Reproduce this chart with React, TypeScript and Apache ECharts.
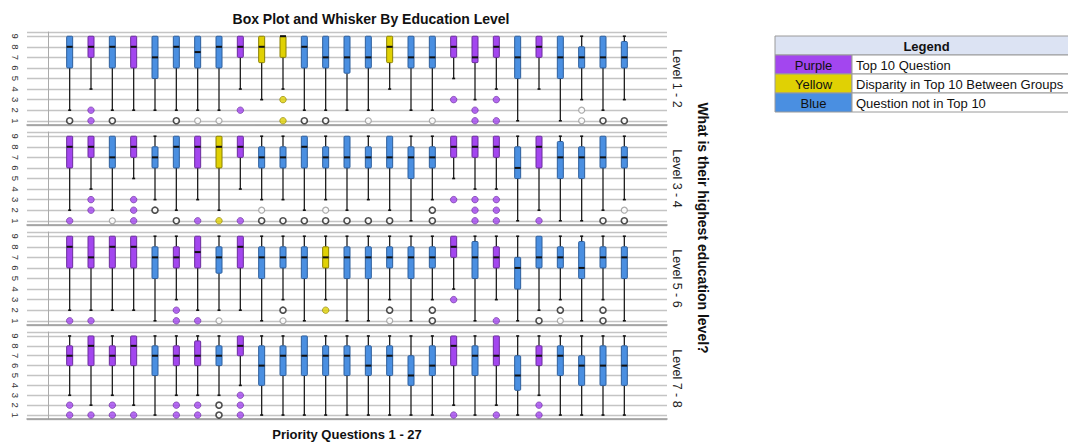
import React, { useEffect, useRef } from "react";
import * as echarts from "echarts";

// ---------- DATA ----------
const QUESTION_NUMBERS = [1, 2, 3, 4, 5, 6, 7, 8, 9, 10, 11, 12, 13, 14, 15, 16, 17, 18, 19, 20, 21, 22, 23, 24, 25, 26, 27];
const LEVELS = ["Level 1 - 2", "Level 3 - 4", "Level 5 - 6", "Level 7 - 8"];
const TITLE = "Box Plot and Whisker By Education Level";
const X_NAME = "Priority Questions 1 - 27";
const Y_NAME = "What is their highest education level?";

// colour group per question: P = purple, Y = yellow, B = blue
const GROUP_L12 = "BPBPBBBBPYYBBBBYBBPPPBPBBBB";
const GROUP_L34 = "PPBPBBPYPBBBBBBBBBPPPBPBBBB";
const GROUP_L56 = "PPPPBPPBPBBBYBBBBBPBPBBBBBB";
const GROUP_L78 = "PPPPBPPBPBBBBBBBBBPBPBPBBBB";

// [whisker low, Q1, median, Q3, whisker high]
const BOX_L12 = [
  [2, 6, 8, 9, 9], [4, 7, 8, 9, 9], [2, 6, 8, 9, 9], [2, 6, 8, 9, 9], [2, 5, 7, 9, 9],
  [2, 6, 8, 9, 9], [2, 6, 7.5, 9, 9], [2, 6, 8, 9, 9], [4, 7, 8, 9, 9], [3, 6.5, 8, 9, 9],
  [4, 7, 9, 9, 9], [2, 6, 8, 9, 9], [2, 6, 7, 9, 9], [2, 5.5, 7, 9, 9], [2, 6, 7, 9, 9],
  [4, 6.5, 8, 9, 9], [2, 6, 7, 9, 9], [2, 6, 7, 9, 9], [5, 7, 8, 9, 9], [3, 6.5, 7, 9, 9],
  [4, 7, 8, 9, 9], [1, 5, 7, 9, 9], [4, 7, 8, 9, 9], [1, 5, 7, 9, 9], [3, 6, 7, 8, 9],
  [2, 6, 7, 9, 9], [3, 6, 7, 8.5, 9],
];
const BOX_L34 = [
  [2, 6, 8, 9, 9], [4, 7, 8, 9, 9], [2, 6, 7, 9, 9], [5, 7, 8, 9, 9], [3, 6, 7, 8, 9],
  [2, 6, 8, 9, 9], [3, 6, 8, 9, 9], [2, 6, 8, 9, 9], [4, 7, 8, 9, 9], [3, 6, 7, 8, 9],
  [3, 6, 7, 8, 9], [2, 6, 8, 9, 9], [3, 6, 7, 8, 9], [2, 6, 7, 9, 9], [3, 6, 7, 8, 9],
  [2, 6, 7, 9, 9], [1, 5, 7, 8, 9], [3, 6, 7, 8, 9], [5, 7, 8, 9, 9], [4, 7, 8, 9, 9],
  [4, 7, 8, 9, 9], [1, 5, 6, 8, 9], [2, 6, 8, 9, 9], [1, 5, 7, 8.5, 9], [1, 5, 7, 8, 9],
  [2, 6, 7, 9, 9], [3, 6, 7, 8, 9],
];
const BOX_L56 = [
  [2, 6, 8, 9, 9], [2, 6, 7, 9, 9], [2, 6, 8, 9, 9], [2, 6, 8, 9, 9], [1, 5, 7, 8, 9],
  [3, 6, 7, 8, 9], [2, 6, 7.5, 9, 9], [2, 5.5, 7, 8, 9], [2, 6, 8, 9, 9], [1, 5, 7, 8, 9],
  [3, 6, 7, 8, 9], [1, 5, 7, 8, 9], [3, 6, 7, 8, 9], [1, 5, 7, 8, 9], [1, 5, 7, 8, 9],
  [3, 6, 7, 8, 9], [1, 5, 7, 8, 9], [3, 6, 7, 8, 9], [4, 7, 8, 9, 9], [1, 5, 7, 8.5, 9],
  [3, 6, 7, 8, 9], [1, 4, 6, 7, 9], [2, 6, 7, 9, 9], [3, 6, 7, 8, 9], [1, 5, 6, 8.5, 9],
  [3, 6, 7, 8, 9], [1, 5, 7, 8, 9],
];
const BOX_L78 = [
  [3, 6, 7, 8, 9], [2, 6, 8, 9, 9], [3, 6, 7, 8, 9], [2, 6, 8, 9, 9], [1, 5, 7, 8, 9],
  [3, 6, 7, 8, 9], [3, 6, 7, 8.5, 9], [3, 6, 7, 8, 9], [4, 7, 8, 9, 9], [1, 4, 6, 8, 9],
  [1, 5, 7, 8, 9], [1, 5, 7, 9, 9], [1, 5, 7, 8, 9], [1, 5, 7, 8, 9], [1, 5, 6, 8, 9],
  [1, 5, 7, 8, 9], [1, 4, 5, 7, 9], [1, 5, 6, 8, 9], [2, 6, 8, 9, 9], [1, 5, 7, 8, 9],
  [2, 6, 7, 9, 9], [1, 3.5, 5, 7, 9], [3, 6, 7, 8, 9], [1, 5, 7, 8, 9], [1, 4, 6, 7, 9],
  [1, 4, 6, 8, 9], [1, 4, 6, 8, 9],
];

// outliers: [question, value, style]  f = filled (group colour), h = hollow dark, g = hollow grey
const OUT_L12: [number, number, string][] = [
  [1, 1, "h"], [2, 2, "f"], [2, 1, "f"], [3, 1, "h"], [6, 1, "h"], [7, 1, "g"], [8, 1, "g"],
  [9, 2, "f"], [11, 3, "f"], [11, 1, "f"], [12, 1, "h"], [13, 1, "h"], [15, 1, "g"], [18, 1, "g"],
  [19, 3, "f"], [20, 2, "f"], [20, 1, "f"], [21, 3, "f"], [21, 1, "f"], [25, 2, "g"], [25, 1, "g"],
  [26, 1, "h"], [27, 1, "h"],
];
const OUT_L34: [number, number, string][] = [
  [1, 1, "f"], [2, 3, "f"], [2, 2, "f"], [3, 1, "g"], [4, 3, "f"], [4, 2, "f"], [4, 1, "f"],
  [5, 2, "h"], [6, 1, "h"], [7, 1, "f"], [8, 1, "f"], [9, 1, "f"], [10, 2, "g"], [10, 1, "h"],
  [11, 1, "h"], [12, 1, "h"], [13, 2, "g"], [13, 1, "h"], [14, 1, "h"], [15, 1, "h"], [16, 1, "h"],
  [18, 2, "h"], [18, 1, "h"], [19, 3, "f"], [20, 3, "f"], [20, 2, "f"], [20, 1, "f"],
  [21, 3, "f"], [21, 2, "f"], [21, 1, "f"], [23, 1, "f"], [26, 1, "h"], [27, 2, "g"], [27, 1, "h"],
];
const OUT_L56: [number, number, string][] = [
  [1, 1, "f"], [2, 1, "f"], [6, 2, "f"], [6, 1, "f"], [7, 1, "f"], [8, 1, "g"], [11, 2, "h"],
  [11, 1, "g"], [13, 2, "f"], [16, 2, "h"], [16, 1, "g"], [18, 2, "h"], [18, 1, "h"], [19, 3, "f"],
  [21, 1, "f"], [23, 1, "h"], [24, 2, "h"], [24, 1, "g"], [26, 2, "h"], [26, 1, "h"],
];
const OUT_L78: [number, number, string][] = [
  [1, 2, "f"], [1, 1, "f"], [2, 1, "f"], [3, 2, "f"], [3, 1, "f"], [4, 1, "f"], [6, 2, "f"],
  [6, 1, "f"], [7, 2, "f"], [7, 1, "f"], [8, 2, "h"], [8, 1, "h"], [9, 3, "f"], [9, 2, "f"],
  [9, 1, "f"], [19, 1, "f"], [21, 1, "f"], [23, 2, "f"], [23, 1, "f"],
];

const LEGEND_TITLE = "Legend";
const LEGEND_KEYS = ["Purple", "Yellow", "Blue"];
const LEGEND_TEXTS = ["Top 10 Question", "Disparity in Top 10 Between Groups", "Question not in Top 10"];
const LEGEND_GROUPS = ["P", "Y", "B"];

// ---------- STYLE ----------
const FILL: Record<string, string> = { P: "#A346EF", Y: "#E0D104", B: "#4A8FE1" };
const EDGE: Record<string, string> = { P: "#6A2C9C", Y: "#8A8000", B: "#2D5E9C" };
const FONT = "'Liberation Sans', Arial, sans-serif";

const PANELS = [
  { groups: GROUP_L12, box: BOX_L12, out: OUT_L12 },
  { groups: GROUP_L34, box: BOX_L34, out: OUT_L34 },
  { groups: GROUP_L56, box: BOX_L56, out: OUT_L56 },
  { groups: GROUP_L78, box: BOX_L78, out: OUT_L78 },
];

const GRID_LEFT = 27;
const GRID_WIDTH = 640;
const GRID_TOPS = [32, 132, 232, 332];
const GRID_H = 93;

function buildOption() {
  const grids: any[] = [];
  const xAxes: any[] = [];
  const yAxes: any[] = [];
  const series: any[] = [];
  const graphics: any[] = [];

  PANELS.forEach((p, pi) => {
    grids.push({ left: GRID_LEFT, width: GRID_WIDTH, top: GRID_TOPS[pi], height: GRID_H, containLabel: false });
    xAxes.push({
      type: "value",
      gridIndex: pi,
      min: -1,
      max: 29,
      axisLabel: { show: false },
      axisTick: { show: false },
      splitLine: { show: false },
      axisLine: { show: true, lineStyle: { color: "#999", width: 1.5 } },
      ...(pi === 3
        ? {
            name: X_NAME,
            nameLocation: "middle",
            nameGap: 9,
            nameTextStyle: { fontFamily: FONT, fontWeight: "bold", fontSize: 13, color: "#111" },
          }
        : {}),
    });
    yAxes.push({
      type: "value",
      gridIndex: pi,
      min: 0.6,
      max: 9.4,
      splitNumber: 9,
      minInterval: 1,
      maxInterval: 1,
      axisLine: { show: true, lineStyle: { color: "#aaa", width: 1 } },
      axisTick: { show: false },
      axisLabel: {
        rotate: -90,
        fontSize: 9.5,
        color: "#333",
        fontFamily: FONT,
        margin: 7,
        formatter: (v: number) => (Math.abs(v - Math.round(v)) < 1e-6 ? String(Math.round(v)) : ""),
      },
      splitLine: { show: true, lineStyle: { color: "#c4c4c4", width: 1.3 } },
    });

    const groups = p.groups;
    series.push({
      type: "custom",
      xAxisIndex: pi,
      yAxisIndex: pi,
      silent: true,
      z: 2,
      data: p.box.map((s, i) => [QUESTION_NUMBERS[i], ...s]),
      renderItem: (params: any, api: any) => {
        const x = api.value(0);
        const lo = api.value(1), q1 = api.value(2), md = api.value(3), q3 = api.value(4), hi = api.value(5);
        const g = groups[params.dataIndex];
        const pLo = api.coord([x, lo]);
        const pQ1 = api.coord([x, q1]);
        const pMd = api.coord([x, md]);
        const pQ3 = api.coord([x, q3]);
        const pHi = api.coord([x, hi]);
        const cx = pLo[0];
        const hw = 3;
        const wStyle = { stroke: "#1e1e1e", lineWidth: 1.3 };
        const capStyle = { stroke: "#111", lineWidth: 1.6 };
        const children: any[] = [];
        if (lo < q1) {
          children.push({ type: "line", shape: { x1: cx, y1: pQ1[1], x2: cx, y2: pLo[1] }, style: wStyle });
          children.push({ type: "line", shape: { x1: cx - 1.5, y1: pLo[1], x2: cx + 1.5, y2: pLo[1] }, style: capStyle });
        }
        if (hi > q3) {
          children.push({ type: "line", shape: { x1: cx, y1: pQ3[1], x2: cx, y2: pHi[1] }, style: wStyle });
          children.push({ type: "line", shape: { x1: cx - 1.5, y1: pHi[1], x2: cx + 1.5, y2: pHi[1] }, style: capStyle });
        }
        children.push({
          type: "rect",
          shape: { x: cx - hw, y: pQ3[1], width: hw * 2, height: pQ1[1] - pQ3[1], r: 1 },
          style: { fill: FILL[g], stroke: EDGE[g], lineWidth: 1 },
        });
        children.push({
          type: "line",
          shape: { x1: cx - hw, y1: pMd[1], x2: cx + hw, y2: pMd[1] },
          style: { stroke: "#111", lineWidth: 2 },
        });
        return { type: "group", children };
      },
    });

    series.push({
      type: "scatter",
      xAxisIndex: pi,
      yAxisIndex: pi,
      silent: true,
      z: 3,
      symbol: "circle",
      data: p.out.map(([q, v, st]) => {
        const g = groups[q - 1];
        let itemStyle: any;
        let size = 6.5;
        if (st === "f") itemStyle = { color: FILL[g], borderColor: EDGE[g], borderWidth: 0.8 };
        else if (st === "h") { itemStyle = { color: "#fff", borderColor: "#222", borderWidth: 1.6 }; size = 6; }
        else { itemStyle = { color: "#fff", borderColor: "#999", borderWidth: 1.2 }; size = 6; }
        return { value: [q, v], itemStyle, symbolSize: size };
      }),
    });

    graphics.push({
      type: "text",
      x: 677,
      y: GRID_TOPS[pi] + GRID_H / 2,
      rotation: -Math.PI / 2,
      style: {
        text: LEVELS[pi],
        fill: "#222",
        fontSize: 12.5,
        fontFamily: FONT,
        align: "center",
        verticalAlign: "middle",
        textAlign: "center",
        textVerticalAlign: "middle",
      },
    });
  });

  graphics.push({
    type: "text",
    x: 703,
    y: 228,
    rotation: -Math.PI / 2,
    style: {
      text: Y_NAME,
      fill: "#111",
      fontSize: 14,
      fontWeight: "bold",
      fontFamily: FONT,
      align: "center",
      verticalAlign: "middle",
      textAlign: "center",
      textVerticalAlign: "middle",
    },
  });

  // legend table
  const LX = 775, LM = 852, LR = 1078, LY = 36, RH = 19;
  graphics.push({
    type: "rect",
    shape: { x: LX, y: LY, width: LR - LX, height: RH },
    style: { fill: "#DCE3F3", stroke: "#9a9a9a", lineWidth: 1 },
  });
  graphics.push({
    type: "text",
    x: (LX + LR) / 2,
    y: LY + RH / 2 + 0.5,
    style: {
      text: LEGEND_TITLE, fill: "#111", fontSize: 13, fontWeight: "bold", fontFamily: FONT,
      align: "center", verticalAlign: "middle", textAlign: "center", textVerticalAlign: "middle",
    },
  });
  LEGEND_KEYS.forEach((k, i) => {
    const y = LY + RH * (i + 1);
    graphics.push({
      type: "rect",
      shape: { x: LX, y, width: LM - LX, height: RH },
      style: { fill: FILL[LEGEND_GROUPS[i]], stroke: "#9a9a9a", lineWidth: 1 },
    });
    graphics.push({
      type: "rect",
      shape: { x: LM, y, width: LR - LM, height: RH },
      style: { fill: "#fff", stroke: "#9a9a9a", lineWidth: 1 },
    });
    graphics.push({
      type: "text",
      x: (LX + LM) / 2,
      y: y + RH / 2 + 0.5,
      style: {
        text: k, fill: "#111", fontSize: 13, fontFamily: FONT,
        align: "center", verticalAlign: "middle", textAlign: "center", textVerticalAlign: "middle",
      },
    });
    graphics.push({
      type: "text",
      x: LM + 4,
      y: y + RH / 2 + 0.5,
      style: {
        text: LEGEND_TEXTS[i], fill: "#111", fontSize: 13, fontFamily: FONT,
        align: "left", verticalAlign: "middle", textAlign: "left", textVerticalAlign: "middle",
      },
    });
  });

  return {
    animation: false,
    backgroundColor: "#fff",
    title: {
      text: TITLE,
      left: 366,
      top: 7,
      textAlign: "center",
      textStyle: { fontFamily: FONT, fontWeight: "bold", fontSize: 14, color: "#111" },
    },
    grid: grids,
    xAxis: xAxes,
    yAxis: yAxes,
    series,
    graphic: graphics,
  };
}

export default function App() {
  const ref = useRef<HTMLDivElement>(null);
  useEffect(() => {
    if (!ref.current) return;
    const chart = echarts.init(ref.current, null, { renderer: "svg" });
    chart.setOption(buildOption() as any);
    return () => chart.dispose();
  }, []);
  return (
    <div
      ref={ref}
      style={{ position: "absolute", left: 0, top: 0, width: 1068, height: 442, background: "#fff" }}
    />
  );
}
